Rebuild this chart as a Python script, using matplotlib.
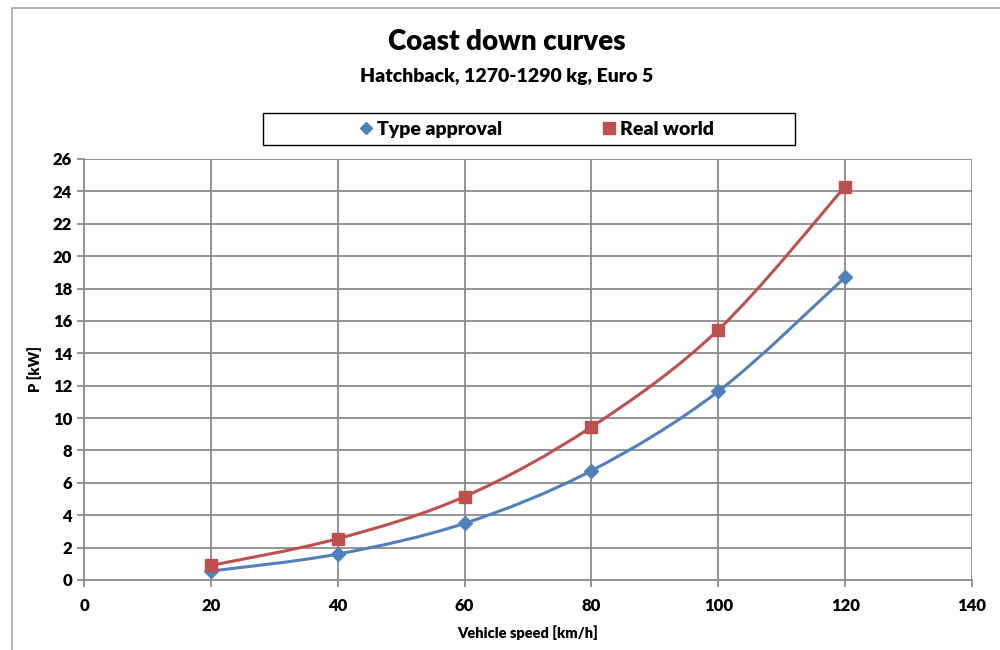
import matplotlib
matplotlib.use("Agg")
import matplotlib.pyplot as plt
from matplotlib.path import Path
from matplotlib.patches import PathPatch, Rectangle
from matplotlib.lines import Line2D

plt.rcParams["font.family"] = ["Lato", "DejaVu Sans"]
BOLD = "heavy"

speed = [20, 40, 60, 80, 100, 120]
type_approval = [0.55, 1.6, 3.5, 6.75, 11.65, 18.7]
real_world = [0.9, 2.55, 5.15, 9.45, 15.45, 24.3]

series_names = ["Type approval", "Real world"]
colors = ["#4F81BD", "#C0504D"]
markers = ["D", "s"]


def smooth_path(xs, ys, tension=1 / 6):
    # Catmull-Rom style bezier, like Excel's smoothed lines
    verts = [(xs[0], ys[0])]
    codes = [Path.MOVETO]
    n = len(xs)
    for i in range(n - 1):
        x0, y0 = (xs[i - 1], ys[i - 1]) if i > 0 else (xs[i], ys[i])
        x1, y1 = xs[i], ys[i]
        x2, y2 = xs[i + 1], ys[i + 1]
        x3, y3 = (xs[i + 2], ys[i + 2]) if i + 2 < n else (x2, y2)
        c1 = (x1 + (x2 - x0) * tension, y1 + (y2 - y0) * tension)
        c2 = (x2 - (x3 - x1) * tension, y2 - (y3 - y1) * tension)
        verts += [c1, c2, (x2, y2)]
        codes += [Path.CURVE4] * 3
    return Path(verts, codes)


fig = plt.figure(figsize=(10, 6.5), dpi=100)
ax = fig.add_axes([0.084, 0.1077, 0.888, 0.6477])

# outer chart frame
fig.patches.append(Rectangle((0.012, -0.01), 1.0, 0.998, transform=fig.transFigure,
                             fill=False, edgecolor="#a6a6a6", linewidth=1.2))

for vals, color, marker, name in zip([type_approval, real_world], colors, markers, series_names):
    ax.add_patch(PathPatch(smooth_path(speed, vals), fill=False, edgecolor=color,
                           linewidth=2.2, zorder=3))
    ax.plot(speed, vals, linestyle="none", marker=marker, color=color,
            markersize=7 if marker == "D" else 8, zorder=4, label=name)

ax.set_xlim(0, 140)
ax.set_ylim(0, 26)
ax.set_xticks(range(0, 141, 20))
ax.set_yticks(range(0, 27, 2))
ax.grid(True, color="#8c8c8c", linewidth=1.3)
ax.set_axisbelow(True)
for side in ["top", "right"]:
    ax.spines[side].set_visible(False)
for side in ["left", "bottom"]:
    ax.spines[side].set_color("#8c8c8c")
    ax.spines[side].set_linewidth(1.3)
ax.tick_params(axis="both", colors="#8c8c8c", length=5, width=1.3, labelcolor="black",
               labelsize=12)
ax.tick_params(axis="x", pad=8)
for lbl in ax.get_xticklabels() + ax.get_yticklabels():
    lbl.set_fontweight(BOLD)

ax.set_xlabel("Vehicle speed [km/h]", fontsize=10.5, fontweight=BOLD, labelpad=8)
ax.set_ylabel("P [kW]", fontsize=10.5, fontweight=BOLD, labelpad=8)

fig.text(0.507, 0.935, "Coast down curves", ha="center", va="center",
         fontsize=20, fontweight=BOLD)
fig.text(0.507, 0.882, "Hatchback, 1270-1290 kg, Euro 5", ha="center", va="center",
         fontsize=14, fontweight=BOLD)

# legend frame drawn separately to match the wide box
fig.patches.append(Rectangle((0.263, 0.777), 0.532, 0.049, transform=fig.transFigure,
                             fill=False, edgecolor="black", linewidth=1.0))
handles = [Line2D([], [], linestyle="none", marker=m, color=c, markersize=6 if m == "D" else 8)
           for m, c in zip(markers, colors)]
fig.legend(handles, series_names, loc="center", bbox_to_anchor=(0.535, 0.8015),
           ncol=2, frameon=False, prop={"size": 14, "weight": BOLD},
           handletextpad=0.05, columnspacing=5.0, handlelength=1.0)

fig.savefig("out.png", dpi=100)
